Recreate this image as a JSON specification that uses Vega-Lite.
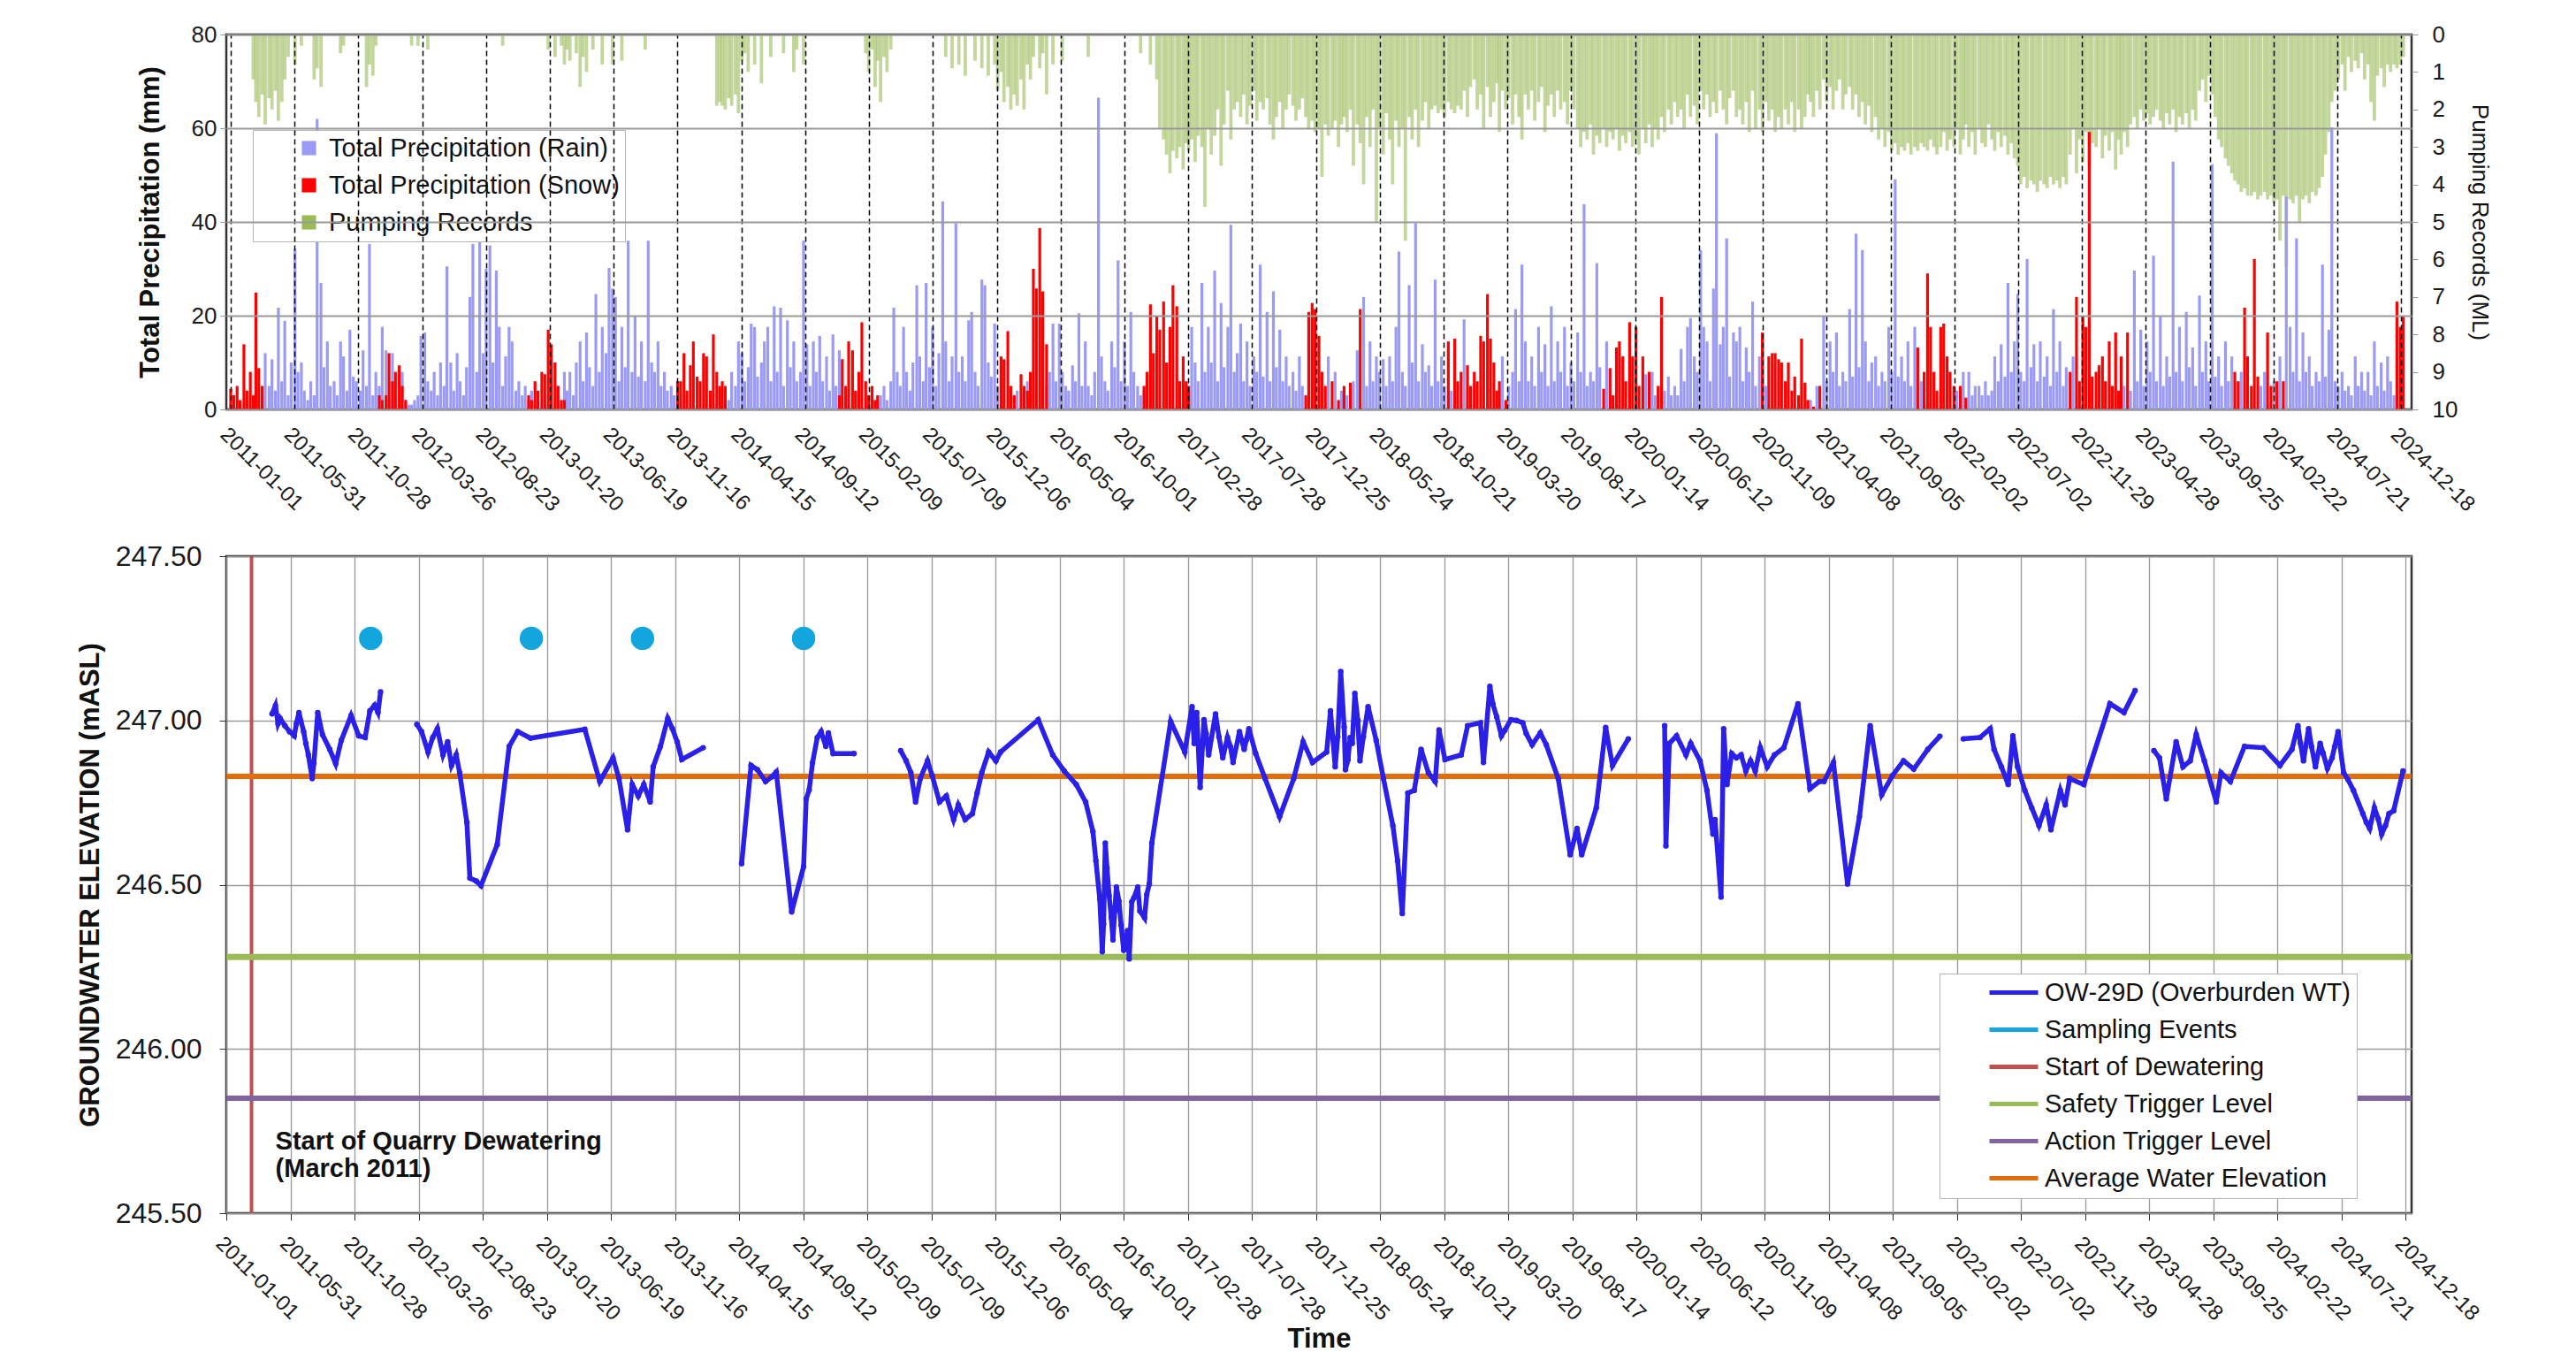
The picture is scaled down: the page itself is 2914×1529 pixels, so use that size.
{
"$schema":"https://vega.github.io/schema/vega-lite/v6.json",
"autosize":{"type":"pad"},
"padding":{"left":84,"top":24,"right":5,"bottom":5},
"background":"white",
"bounds":"flush",
"spacing":166,
"config":{"font":"Liberation Sans","view":{"stroke":"#333","strokeWidth":2.5},"axis":{"labelFont":"Liberation Sans","titleFont":"Liberation Sans","labelColor":"#1a1a1a","titleColor":"#111","domain":false},"legend":{"labelFont":"Liberation Sans","labelColor":"#111","labelLimit":0}},
"resolve":{"scale":{"color":"independent"},"legend":{"color":"independent"}},
"datasets":{
"pr":[
{"d":"2011-01-01","r":1,"s":4.4},{"d":"2011-01-08","r":0.5,"s":3},{"d":"2011-01-16","s":5},{"d":"2011-01-23","r":1,"s":2},
{"d":"2011-02-01","s":13.9},{"d":"2011-02-08","r":2,"s":4},{"d":"2011-02-16","s":8},{"d":"2011-02-23","r":1,"s":3,"p":1.2},
{"d":"2011-03-01","s":24.9,"p":1.8},{"d":"2011-03-08","s":8.8,"p":2.2},{"d":"2011-03-16","r":3,"s":5,"p":1.6},{"d":"2011-03-23","r":12,"p":2.4},
{"d":"2011-04-01","r":5,"p":1.7},{"d":"2011-04-08","r":10.7,"p":2.0},{"d":"2011-04-16","r":4,"p":1.5},{"d":"2011-04-23","r":21.7,"p":2.3},
{"d":"2011-05-01","r":6,"p":1.8},{"d":"2011-05-08","r":18.9,"p":1.2},{"d":"2011-05-16","r":3,"p":0.6},{"d":"2011-05-23","r":10},
{"d":"2011-06-01","r":34.3,"p":0.8},{"d":"2011-06-08","r":8},{"d":"2011-06-16","r":10,"p":0.3},{"d":"2011-06-23","r":4},
{"d":"2011-07-01","r":2},{"d":"2011-07-08","r":6},{"d":"2011-07-16","r":3,"p":1.2},{"d":"2011-07-23","r":62,"p":0.9},
{"d":"2011-08-01","r":27,"p":1.4},{"d":"2011-08-08","r":9},{"d":"2011-08-16","r":14.5},{"d":"2011-08-23","r":5},
{"d":"2011-09-01","r":6},{"d":"2011-09-08","r":3},{"d":"2011-09-16","r":14.5,"p":0.5},{"d":"2011-09-23","r":11.3,"p":0.3},
{"d":"2011-10-01","r":4},{"d":"2011-10-08","r":17},{"d":"2011-10-16","r":7},{"d":"2011-10-23","r":6},
{"d":"2011-11-01","r":4},{"d":"2011-11-08","r":12.6},{"d":"2011-11-16","r":5,"p":1.4},{"d":"2011-11-23","r":35.3,"p":0.8},
{"d":"2011-12-01","r":3,"p":1.1},{"d":"2011-12-08","r":8,"p":0.3},{"d":"2011-12-16","r":5,"s":3},{"d":"2011-12-23","r":17.6,"s":2},
{"d":"2012-01-01","r":12.6,"s":3},{"d":"2012-01-08","r":2,"s":12},{"d":"2012-01-16","r":12,"s":6},{"d":"2012-01-23","s":8},
{"d":"2012-02-01","r":7.5,"s":9.4},{"d":"2012-02-08","r":8,"s":5},{"d":"2012-02-16","r":2,"s":2},{"d":"2012-02-23","r":1},
{"d":"2012-03-01","r":1,"p":0.3},{"d":"2012-03-08","r":2},{"d":"2012-03-16","r":3,"p":0.3},{"d":"2012-03-23","r":15.7},
{"d":"2012-04-01","r":16.4},{"d":"2012-04-08","r":6,"p":0.4},{"d":"2012-04-16","r":4},{"d":"2012-04-23","r":8},
{"d":"2012-05-01","r":3},{"d":"2012-05-08","r":10},{"d":"2012-05-16","r":5},{"d":"2012-05-23","r":30.5},
{"d":"2012-06-01","r":10},{"d":"2012-06-08","r":4},{"d":"2012-06-16","r":12},{"d":"2012-06-23","r":6},
{"d":"2012-07-01","r":3},{"d":"2012-07-08","r":9},{"d":"2012-07-16","r":24},{"d":"2012-07-23","r":35.3},
{"d":"2012-08-01","r":8},{"d":"2012-08-08","r":36},{"d":"2012-08-16","r":12},{"d":"2012-08-23","r":30},
{"d":"2012-09-01","r":35},{"d":"2012-09-08","r":10},{"d":"2012-09-16","r":29.6},{"d":"2012-09-23","r":17.6},
{"d":"2012-10-01","r":5,"p":0.3},{"d":"2012-10-08","r":11.3},{"d":"2012-10-16","r":17.6},{"d":"2012-10-23","r":14.5},
{"d":"2012-11-01","r":4},{"d":"2012-11-08","r":6},{"d":"2012-11-16","r":3},{"d":"2012-11-23","r":5},
{"d":"2012-12-01","r":2,"s":3},{"d":"2012-12-08","r":4,"s":2},{"d":"2012-12-16","r":1,"s":6},{"d":"2012-12-23","r":3,"s":4},
{"d":"2013-01-01","s":8},{"d":"2013-01-08","r":2,"s":7.5},{"d":"2013-01-16","s":17,"p":0.4},{"d":"2013-01-23","r":5,"s":13.9},
{"d":"2013-02-01","s":10,"p":0.6},{"d":"2013-02-08","r":5,"s":5},{"d":"2013-02-16","s":2,"p":0.3},{"d":"2013-02-23","r":8,"s":2,"p":0.8},
{"d":"2013-03-01","r":4,"p":0.4},{"d":"2013-03-08","r":8,"p":0.7},{"d":"2013-03-16","r":3},{"d":"2013-03-23","r":10,"p":0.5},
{"d":"2013-04-01","r":14.5,"p":1.4},{"d":"2013-04-08","r":6,"p":0.6},{"d":"2013-04-16","r":16.4,"p":1.0},{"d":"2013-04-23","r":9},
{"d":"2013-05-01","r":5,"p":0.4},{"d":"2013-05-08","r":24.6},{"d":"2013-05-16","r":8},{"d":"2013-05-23","r":17.6,"p":0.8},
{"d":"2013-06-01","r":12},{"d":"2013-06-08","r":30.2},{"d":"2013-06-16","r":25.8,"p":0.8},{"d":"2013-06-23","r":24},
{"d":"2013-07-01","r":6},{"d":"2013-07-08","r":17.6,"p":0.7},{"d":"2013-07-16","r":9},{"d":"2013-07-23","r":36},
{"d":"2013-08-01","r":8},{"d":"2013-08-08","r":20},{"d":"2013-08-16","r":7},{"d":"2013-08-23","r":14.5},
{"d":"2013-09-01","r":6,"p":0.4},{"d":"2013-09-08","r":36},{"d":"2013-09-16","r":10},{"d":"2013-09-23","r":8},
{"d":"2013-10-01","r":14.5},{"d":"2013-10-08","r":5},{"d":"2013-10-16","r":8},{"d":"2013-10-23","r":4},
{"d":"2013-11-01","r":5},{"d":"2013-11-08","r":3},{"d":"2013-11-16","r":2,"s":6},{"d":"2013-11-23","s":6},
{"d":"2013-12-01","s":12},{"d":"2013-12-08","s":4},{"d":"2013-12-16","s":9.4},{"d":"2013-12-23","s":14.5},
{"d":"2014-01-01","s":7},{"d":"2014-01-08","s":6},{"d":"2014-01-16","s":12},{"d":"2014-01-23","s":11.3},
{"d":"2014-02-01","s":4},{"d":"2014-02-08","s":16},{"d":"2014-02-16","s":8,"p":1.9},{"d":"2014-02-23","s":5,"p":1.8},
{"d":"2014-03-01","s":6,"p":1.9},{"d":"2014-03-08","s":5,"p":2.0},{"d":"2014-03-16","r":2,"p":1.7},{"d":"2014-03-23","r":8,"p":1.9},
{"d":"2014-04-01","r":5,"p":1.6},{"d":"2014-04-08","r":14.5,"p":2.1},{"d":"2014-04-16","r":12,"p":0.7},{"d":"2014-04-23","r":6,"p":0.5},
{"d":"2014-05-01","r":9,"p":1.0},{"d":"2014-05-08","r":18.3},{"d":"2014-05-16","r":17.6,"p":0.8},{"d":"2014-05-23","r":7},
{"d":"2014-06-01","r":10,"p":1.3},{"d":"2014-06-08","r":14.5},{"d":"2014-06-16","r":17.6},{"d":"2014-06-23","r":6,"p":0.6},
{"d":"2014-07-01","r":22},{"d":"2014-07-08","r":8},{"d":"2014-07-16","r":21.7},{"d":"2014-07-23","r":5,"p":0.5},
{"d":"2014-08-01","r":19},{"d":"2014-08-08","r":9},{"d":"2014-08-16","r":14.5,"p":1.0},{"d":"2014-08-23","r":6,"p":0.4},
{"d":"2014-09-01","r":8},{"d":"2014-09-08","r":36,"p":0.8},{"d":"2014-09-16","r":13.9},{"d":"2014-09-23","r":5},
{"d":"2014-10-01","r":14.5},{"d":"2014-10-08","r":8},{"d":"2014-10-16","r":15.7},{"d":"2014-10-23","r":6},
{"d":"2014-11-01","r":11.3},{"d":"2014-11-08","r":4},{"d":"2014-11-16","r":16},{"d":"2014-11-23","r":5},
{"d":"2014-12-01","r":12.6,"s":3},{"d":"2014-12-08","s":10.7},{"d":"2014-12-16","r":3,"s":5},{"d":"2014-12-23","s":14.5},
{"d":"2015-01-01","s":12.6},{"d":"2015-01-08","s":4},{"d":"2015-01-16","s":8},{"d":"2015-01-23","s":18.6},
{"d":"2015-02-01","s":6,"p":0.5},{"d":"2015-02-08","s":3,"p":1.0},{"d":"2015-02-16","s":5,"p":0.4},{"d":"2015-02-23","s":2,"p":1.4},
{"d":"2015-03-01","r":2,"s":3,"p":0.7},{"d":"2015-03-08","r":3,"p":1.8},{"d":"2015-03-16","r":5,"p":0.6},{"d":"2015-03-23","r":2,"p":1.0},
{"d":"2015-04-01","r":6,"p":0.4},{"d":"2015-04-08","r":21.7},{"d":"2015-04-16","r":8},{"d":"2015-04-23","r":5},
{"d":"2015-05-01","r":17.6},{"d":"2015-05-08","r":8},{"d":"2015-05-16","r":4},{"d":"2015-05-23","r":10},
{"d":"2015-06-01","r":26.5},{"d":"2015-06-08","r":11.3},{"d":"2015-06-16","r":6},{"d":"2015-06-23","r":27},
{"d":"2015-07-01","r":9},{"d":"2015-07-08","r":17.6},{"d":"2015-07-16","r":5},{"d":"2015-07-23","r":12},
{"d":"2015-08-01","r":44.4},{"d":"2015-08-08","r":14.5,"p":0.6},{"d":"2015-08-16","r":6},{"d":"2015-08-23","r":11.3,"p":0.9},
{"d":"2015-09-01","r":39.7},{"d":"2015-09-08","r":8,"p":0.8},{"d":"2015-09-16","r":11.3},{"d":"2015-09-23","r":6,"p":1.1},
{"d":"2015-10-01","r":19},{"d":"2015-10-08","r":20.8},{"d":"2015-10-16","r":8,"p":0.7},{"d":"2015-10-23","r":5},
{"d":"2015-11-01","r":27.7,"p":0.9},{"d":"2015-11-08","r":26.5},{"d":"2015-11-16","r":10,"p":1.1},{"d":"2015-11-23","r":7},
{"d":"2015-12-01","r":18.3,"p":0.8},{"d":"2015-12-08","r":5,"p":1.5},{"d":"2015-12-16","s":11.3,"p":1.0},{"d":"2015-12-23","s":10.7,"p":1.8},
{"d":"2016-01-01","s":16.7,"p":1.4},{"d":"2016-01-08","s":5,"p":2.0},{"d":"2016-01-16","s":3,"p":1.6},{"d":"2016-01-23","r":4,"p":1.9},
{"d":"2016-02-01","s":7.5,"p":1.2},{"d":"2016-02-08","s":5,"p":2.0},{"d":"2016-02-16","r":6,"s":4,"p":0.8},{"d":"2016-02-23","s":8,"p":1.2},
{"d":"2016-03-01","s":30,"p":0.6},{"d":"2016-03-08","s":25.8},{"d":"2016-03-16","s":38.7,"p":0.9},{"d":"2016-03-23","s":25.2,"p":0.5},
{"d":"2016-04-01","r":5,"s":13.9,"p":1.6},{"d":"2016-04-08","r":8},{"d":"2016-04-16","r":18.3,"p":0.8},{"d":"2016-04-23","r":6},
{"d":"2016-05-01","r":18.3},{"d":"2016-05-08","r":8,"p":0.7},{"d":"2016-05-16","r":5},{"d":"2016-05-23","r":4},
{"d":"2016-06-01","r":9.4},{"d":"2016-06-08","r":6},{"d":"2016-06-16","r":20.5},{"d":"2016-06-23","r":5},
{"d":"2016-07-01","r":14.5},{"d":"2016-07-08","r":5,"p":0.6},{"d":"2016-07-16","r":3},{"d":"2016-07-23","r":8},
{"d":"2016-08-01","r":66.5},{"d":"2016-08-08","r":11.3},{"d":"2016-08-16","r":6},{"d":"2016-08-23","r":4},
{"d":"2016-09-01","r":14.5},{"d":"2016-09-08","r":9},{"d":"2016-09-16","r":31.8},{"d":"2016-09-23","r":6},
{"d":"2016-10-01","r":14.5},{"d":"2016-10-08","r":5},{"d":"2016-10-16","r":20.8},{"d":"2016-10-23","r":8},
{"d":"2016-11-01","r":5},{"d":"2016-11-08","r":3,"p":0.5},{"d":"2016-11-16","r":4,"s":5},{"d":"2016-11-23","s":8},
{"d":"2016-12-01","s":22.4,"p":0.8},{"d":"2016-12-08","s":12},{"d":"2016-12-16","s":20,"p":1.2},{"d":"2016-12-23","s":17,"p":2.5},
{"d":"2017-01-01","s":23,"p":2.8},{"d":"2017-01-08","s":10,"p":3.2},{"d":"2017-01-16","s":17.6,"p":3.7},{"d":"2017-01-23","s":26.5,"p":3.1},
{"d":"2017-02-01","s":22,"p":3.3},{"d":"2017-02-08","s":6,"p":3.0},{"d":"2017-02-16","s":11.3,"p":3.6},{"d":"2017-02-23","s":6,"p":2.9},
{"d":"2017-03-01","r":4,"s":5,"p":3.1},{"d":"2017-03-08","r":17.6,"p":2.8},{"d":"2017-03-16","r":10,"p":3.4},{"d":"2017-03-23","r":6,"p":2.7},
{"d":"2017-04-01","r":27,"p":3.0},{"d":"2017-04-08","r":8,"p":4.6},{"d":"2017-04-16","r":17.6,"p":2.5},{"d":"2017-04-23","r":10,"p":3.2},
{"d":"2017-05-01","r":29.6,"p":2.7},{"d":"2017-05-08","r":6,"p":2.0},{"d":"2017-05-16","r":22.7,"p":3.5},{"d":"2017-05-23","r":9,"p":2.4},
{"d":"2017-06-01","r":17.6,"p":1.5},{"d":"2017-06-08","r":39.4,"p":2.8},{"d":"2017-06-16","r":8,"p":2.0},{"d":"2017-06-23","r":12,"p":1.8},
{"d":"2017-07-01","r":18.3,"p":2.2},{"d":"2017-07-08","r":6,"p":1.6},{"d":"2017-07-16","r":14.5,"p":2.4},{"d":"2017-07-23","r":5,"p":1.9},
{"d":"2017-08-01","r":11.3,"p":1.5},{"d":"2017-08-08","r":8,"p":2.3},{"d":"2017-08-16","r":30.9,"p":1.8},{"d":"2017-08-23","r":7,"p":2.0},
{"d":"2017-09-01","r":20.8,"p":1.7},{"d":"2017-09-08","r":6,"p":2.4},{"d":"2017-09-16","r":25.2,"p":2.8},{"d":"2017-09-23","r":9,"p":2.2},
{"d":"2017-10-01","r":17,"p":1.8},{"d":"2017-10-08","r":6,"p":2.5},{"d":"2017-10-16","r":11.3,"p":2.0},{"d":"2017-10-23","r":5,"p":1.6},
{"d":"2017-11-01","r":8,"p":1.9},{"d":"2017-11-08","r":4,"p":2.3},{"d":"2017-11-16","r":11.3,"p":2.0},{"d":"2017-11-23","r":5,"p":1.7},
{"d":"2017-12-01","s":3,"p":2.2},{"d":"2017-12-08","s":20.8,"p":2.5},{"d":"2017-12-16","s":22.7,"p":2.3},{"d":"2017-12-23","s":21.4,"p":2.6},
{"d":"2018-01-01","s":15.7,"p":2.5},{"d":"2018-01-08","s":8,"p":3.8},{"d":"2018-01-16","s":5,"p":2.4},{"d":"2018-01-23","r":11.3,"p":2.7},
{"d":"2018-02-01","s":6,"p":2.5},{"d":"2018-02-08","r":8,"p":2.3},{"d":"2018-02-16","s":2,"p":3.0},{"d":"2018-02-23","r":4,"p":2.4},
{"d":"2018-03-01","s":5,"p":2.2},{"d":"2018-03-08","r":3,"p":2.6},{"d":"2018-03-16","s":5.7,"p":2.0},{"d":"2018-03-23","r":6,"p":3.5},
{"d":"2018-04-01","r":12.6,"p":2.4},{"d":"2018-04-08","s":21.4,"p":2.9},{"d":"2018-04-16","r":24,"p":4.0},{"d":"2018-04-23","r":5,"p":2.2},
{"d":"2018-05-01","r":14.5,"p":3.0},{"d":"2018-05-08","r":6,"p":2.0},{"d":"2018-05-16","r":11.3,"p":5.0},{"d":"2018-05-23","r":8,"p":2.5},
{"d":"2018-06-01","r":10.7,"p":3.2},{"d":"2018-06-08","r":5,"p":2.1},{"d":"2018-06-16","r":11.3,"p":2.8},{"d":"2018-06-23","r":6,"p":4.0},
{"d":"2018-07-01","r":17.6,"p":2.3},{"d":"2018-07-08","r":33.7,"p":3.0},{"d":"2018-07-16","r":8,"p":2.5},{"d":"2018-07-23","r":5,"p":5.5},
{"d":"2018-08-01","r":26.5,"p":2.2},{"d":"2018-08-08","r":10,"p":2.8},{"d":"2018-08-16","r":39.7,"p":2.0},{"d":"2018-08-23","r":6,"p":3.0},
{"d":"2018-09-01","r":13.9,"p":2.3},{"d":"2018-09-08","r":8,"p":1.8},{"d":"2018-09-16","r":9.4,"p":2.5},{"d":"2018-09-23","r":5,"p":2.0},
{"d":"2018-10-01","r":27.7,"p":1.9},{"d":"2018-10-08","r":6,"p":2.1},{"d":"2018-10-16","r":11.3,"p":2.0},{"d":"2018-10-23","r":5,"p":2.2},
{"d":"2018-11-01","s":14.5,"p":1.8},{"d":"2018-11-08","r":4,"p":2.0},{"d":"2018-11-16","s":15.1,"p":2.1},{"d":"2018-11-23","s":6,"p":1.9},
{"d":"2018-12-01","s":8,"p":2.0},{"d":"2018-12-08","r":19.2,"p":1.5},{"d":"2018-12-16","s":9.4,"p":2.2},{"d":"2018-12-23","s":5,"p":1.4},
{"d":"2019-01-01","s":8,"p":1.2},{"d":"2019-01-08","s":6,"p":2.0},{"d":"2019-01-16","s":15.7,"p":1.6},{"d":"2019-01-23","s":14.5,"p":2.5},
{"d":"2019-02-01","s":24.6,"p":1.4},{"d":"2019-02-08","s":15.1,"p":2.2},{"d":"2019-02-16","s":10,"p":1.8},{"d":"2019-02-23","s":4,"p":1.3},
{"d":"2019-03-01","s":6,"p":2.6},{"d":"2019-03-08","r":11.3,"p":1.5},{"d":"2019-03-16","s":2,"p":2.0},{"d":"2019-03-23","r":5,"p":1.7},
{"d":"2019-04-01","r":8,"p":2.4},{"d":"2019-04-08","r":21.4,"p":1.6},{"d":"2019-04-16","r":6,"p":2.2},{"d":"2019-04-23","r":30.9,"p":2.8},
{"d":"2019-05-01","r":14.5,"p":1.6},{"d":"2019-05-08","r":6,"p":2.0},{"d":"2019-05-16","r":11.3,"p":1.5},{"d":"2019-05-23","r":5,"p":2.3},
{"d":"2019-06-01","r":17.6,"p":1.8},{"d":"2019-06-08","r":8,"p":1.4},{"d":"2019-06-16","r":13.9,"p":2.6},{"d":"2019-06-23","r":5,"p":1.9},
{"d":"2019-07-01","r":22,"p":1.6},{"d":"2019-07-08","r":6,"p":2.2},{"d":"2019-07-16","r":14.5,"p":1.5},{"d":"2019-07-23","r":8,"p":2.0},
{"d":"2019-08-01","r":17.6,"p":1.8},{"d":"2019-08-08","r":5,"p":2.4},{"d":"2019-08-16","r":10,"p":1.5},{"d":"2019-08-23","r":6,"p":2.0},
{"d":"2019-09-01","r":16.4,"p":2.5},{"d":"2019-09-08","r":8,"p":3.0},{"d":"2019-09-16","r":43.8,"p":2.6},{"d":"2019-09-23","r":5,"p":2.8},
{"d":"2019-10-01","r":8,"p":2.4},{"d":"2019-10-08","r":6,"p":3.2},{"d":"2019-10-16","r":31.2,"p":2.7},{"d":"2019-10-23","r":9,"p":2.9},
{"d":"2019-11-01","s":4.4,"p":2.5},{"d":"2019-11-08","r":14.5,"p":3.0},{"d":"2019-11-16","s":8.8,"p":2.6},{"d":"2019-11-23","s":3,"p":2.8},
{"d":"2019-12-01","s":13.2,"p":2.5},{"d":"2019-12-08","s":14.5,"p":3.1},{"d":"2019-12-16","s":11.3,"p":2.7},{"d":"2019-12-23","s":6,"p":2.9},
{"d":"2020-01-01","s":18.6,"p":2.6},{"d":"2020-01-08","s":11.3,"p":3.0},{"d":"2020-01-16","s":17.6,"p":2.8},{"d":"2020-01-23","s":5,"p":3.2},
{"d":"2020-02-01","s":11.3,"p":2.5},{"d":"2020-02-08","r":7.5,"p":2.9},{"d":"2020-02-16","s":8,"p":2.4},{"d":"2020-02-23","r":8,"p":3.0},
{"d":"2020-03-01","r":3,"p":2.5},{"d":"2020-03-08","s":5,"p":2.8},{"d":"2020-03-16","s":24,"p":2.2},{"d":"2020-03-23","r":4,"p":2.6},
{"d":"2020-04-01","r":7,"p":2.0},{"d":"2020-04-08","r":3,"p":2.4},{"d":"2020-04-16","r":5,"p":1.8},{"d":"2020-04-23","r":3,"p":2.2},
{"d":"2020-05-01","r":12.9,"p":2.0},{"d":"2020-05-08","r":6,"p":2.5},{"d":"2020-05-16","r":17.6,"p":1.6},{"d":"2020-05-23","r":19.5,"p":2.2},
{"d":"2020-06-01","r":11.3,"p":1.9},{"d":"2020-06-08","r":8,"p":2.4},{"d":"2020-06-16","r":34,"p":1.5},{"d":"2020-06-23","r":17.6,"p":2.0},
{"d":"2020-07-01","r":14.5,"p":1.6},{"d":"2020-07-08","r":6,"p":2.2},{"d":"2020-07-16","r":25.8,"p":1.8},{"d":"2020-07-23","r":58.9,"p":2.1},
{"d":"2020-08-01","r":13.9,"p":1.5},{"d":"2020-08-08","r":17.6,"p":2.0},{"d":"2020-08-16","r":36.5,"p":2.4},{"d":"2020-08-23","r":7,"p":1.7},
{"d":"2020-09-01","r":16.4,"p":1.5},{"d":"2020-09-08","r":14.5,"p":2.2},{"d":"2020-09-16","r":17.6,"p":2.0},{"d":"2020-09-23","r":6,"p":2.4},
{"d":"2020-10-01","r":13.2,"p":1.8},{"d":"2020-10-08","r":8,"p":2.6},{"d":"2020-10-16","r":23,"p":1.5},{"d":"2020-10-23","r":5,"p":2.5},
{"d":"2020-11-01","r":11.3,"p":2.0},{"d":"2020-11-08","s":16.4,"p":2.6},{"d":"2020-11-16","r":5,"p":1.8},{"d":"2020-11-23","s":11.3,"p":2.3},
{"d":"2020-12-01","s":12,"p":2.0},{"d":"2020-12-08","s":12,"p":2.6},{"d":"2020-12-16","s":10.7,"p":2.2},{"d":"2020-12-23","s":10,"p":2.5},
{"d":"2021-01-01","s":6,"p":2.0},{"d":"2021-01-08","s":10,"p":2.4},{"d":"2021-01-16","s":4,"p":1.8},{"d":"2021-01-23","s":7,"p":2.6},
{"d":"2021-02-01","s":3,"p":2.0},{"d":"2021-02-08","s":15.1,"p":2.5},{"d":"2021-02-16","s":5.7,"p":2.2},{"d":"2021-02-23","s":2,"p":1.6},
{"d":"2021-03-01","r":2,"p":1.8},{"d":"2021-03-08","s":0.6,"p":2.2},{"d":"2021-03-16","r":5,"p":1.5},{"d":"2021-03-23","s":5,"p":2.0},
{"d":"2021-04-01","r":20,"p":1.2},{"d":"2021-04-08","r":6,"p":1.8},{"d":"2021-04-16","r":14.5,"p":1.4},{"d":"2021-04-23","r":8,"p":2.0},
{"d":"2021-05-01","r":16.4,"p":1.5},{"d":"2021-05-08","r":5,"p":1.2},{"d":"2021-05-16","r":8,"p":2.0},{"d":"2021-05-23","r":6,"p":1.6},
{"d":"2021-06-01","r":21.4,"p":1.4},{"d":"2021-06-08","r":7,"p":2.0},{"d":"2021-06-16","r":37.5,"p":1.6},{"d":"2021-06-23","r":9,"p":2.2},
{"d":"2021-07-01","r":34,"p":1.8},{"d":"2021-07-08","r":14.5,"p":2.4},{"d":"2021-07-16","r":6,"p":1.9},{"d":"2021-07-23","r":10,"p":2.6},
{"d":"2021-08-01","r":11.3,"p":2.2},{"d":"2021-08-08","r":5,"p":2.8},{"d":"2021-08-16","r":8,"p":2.5},{"d":"2021-08-23","r":6,"p":3.0},
{"d":"2021-09-01","r":17.6,"p":2.6},{"d":"2021-09-08","r":8,"p":3.1},{"d":"2021-09-16","r":49.1,"p":2.9},{"d":"2021-09-23","r":7,"p":3.2},
{"d":"2021-10-01","r":11.3,"p":3.0},{"d":"2021-10-08","r":6,"p":3.1},{"d":"2021-10-16","r":14.5,"p":2.9},{"d":"2021-10-23","r":5,"p":3.2},
{"d":"2021-11-01","r":17.6,"p":3.0},{"d":"2021-11-08","s":13.2,"p":3.1},{"d":"2021-11-16","r":6,"p":2.9},{"d":"2021-11-23","s":8,"p":3.0},
{"d":"2021-12-01","s":29,"p":3.1},{"d":"2021-12-08","s":17.6,"p":2.8},{"d":"2021-12-16","s":8,"p":3.0},{"d":"2021-12-23","s":4,"p":3.2},
{"d":"2022-01-01","s":17.6,"p":3.0},{"d":"2022-01-08","s":18.3,"p":2.6},{"d":"2022-01-16","s":11.3,"p":3.1},{"d":"2022-01-23","s":8,"p":2.8},
{"d":"2022-02-01","s":5,"p":3.0},{"d":"2022-02-08","r":4,"p":2.5},{"d":"2022-02-16","s":5,"p":3.2},{"d":"2022-02-23","r":8,"p":2.8},
{"d":"2022-03-01","s":2.5,"p":2.4},{"d":"2022-03-08","r":8,"p":3.0},{"d":"2022-03-16","r":3,"p":2.6},{"d":"2022-03-23","r":5,"p":3.2},
{"d":"2022-04-01","r":5,"p":2.5},{"d":"2022-04-08","r":3,"p":2.9},{"d":"2022-04-16","r":6,"p":3.0},{"d":"2022-04-23","r":3,"p":2.4},
{"d":"2022-05-01","r":4,"p":2.8},{"d":"2022-05-08","r":11.3,"p":3.1},{"d":"2022-05-16","r":6,"p":2.6},{"d":"2022-05-23","r":13.9,"p":3.0},
{"d":"2022-06-01","r":7,"p":2.7},{"d":"2022-06-08","r":27,"p":3.2},{"d":"2022-06-16","r":8,"p":2.9},{"d":"2022-06-23","r":14.5,"p":3.3},
{"d":"2022-07-01","r":24.6,"p":3.5},{"d":"2022-07-08","r":8,"p":4.0},{"d":"2022-07-16","r":6,"p":3.8},{"d":"2022-07-23","r":32.1,"p":4.1},
{"d":"2022-08-01","r":9,"p":3.9},{"d":"2022-08-08","r":13.9,"p":4.0},{"d":"2022-08-16","r":6,"p":4.2},{"d":"2022-08-23","r":14.5,"p":3.9},
{"d":"2022-09-01","r":7,"p":4.0},{"d":"2022-09-08","r":11.3,"p":4.1},{"d":"2022-09-16","r":5,"p":3.8},{"d":"2022-09-23","r":21.4,"p":4.0},
{"d":"2022-10-01","r":8,"p":3.9},{"d":"2022-10-08","r":14.5,"p":4.1},{"d":"2022-10-16","r":5,"p":3.8},{"d":"2022-10-23","r":9,"p":4.0},
{"d":"2022-11-01","s":8,"p":3.2},{"d":"2022-11-08","r":11.3,"p":2.5},{"d":"2022-11-16","s":24,"p":3.7},{"d":"2022-11-23","s":6,"p":2.8},
{"d":"2022-12-01","s":20,"p":3.4},{"d":"2022-12-08","s":17.6,"p":2.6},{"d":"2022-12-16","s":59.2,"p":3.5},{"d":"2022-12-23","s":7,"p":2.9},
{"d":"2023-01-01","s":8,"p":3.0},{"d":"2023-01-08","s":9.4,"p":2.5},{"d":"2023-01-16","s":11.3,"p":3.3},{"d":"2023-01-23","s":6,"p":2.7},
{"d":"2023-02-01","s":14.5,"p":3.1},{"d":"2023-02-08","s":5,"p":2.6},{"d":"2023-02-16","s":16.4,"p":3.6},{"d":"2023-02-23","s":4,"p":2.8},
{"d":"2023-03-01","s":11.3,"p":3.2},{"d":"2023-03-08","r":5,"p":2.6},{"d":"2023-03-16","s":16.4,"p":3.0},{"d":"2023-03-23","r":4,"p":2.4},
{"d":"2023-04-01","r":29.6,"p":2.2},{"d":"2023-04-08","r":6,"p":2.5},{"d":"2023-04-16","r":17,"p":2.0},{"d":"2023-04-23","r":5,"p":2.3},
{"d":"2023-05-01","r":14.5,"p":2.1},{"d":"2023-05-08","r":8,"p":2.4},{"d":"2023-05-16","r":32.8,"p":2.2},{"d":"2023-05-23","r":6,"p":2.0},
{"d":"2023-06-01","r":20,"p":2.3},{"d":"2023-06-08","r":5,"p":2.5},{"d":"2023-06-16","r":11.3,"p":2.1},{"d":"2023-06-23","r":7,"p":2.4},
{"d":"2023-07-01","r":52.9,"p":2.0},{"d":"2023-07-08","r":8,"p":2.6},{"d":"2023-07-16","r":17.6,"p":2.2},{"d":"2023-07-23","r":6,"p":2.4},
{"d":"2023-08-01","r":20.8,"p":2.1},{"d":"2023-08-08","r":9,"p":2.5},{"d":"2023-08-16","r":13.2,"p":2.0},{"d":"2023-08-23","r":5,"p":2.3},
{"d":"2023-09-01","r":24.3,"p":1.5},{"d":"2023-09-08","r":8,"p":1.2},{"d":"2023-09-16","r":14.5,"p":1.8},{"d":"2023-09-23","r":6,"p":1.1},
{"d":"2023-10-01","r":52.3,"p":1.6},{"d":"2023-10-08","r":7,"p":2.2},{"d":"2023-10-16","r":11.3,"p":2.8},{"d":"2023-10-23","r":5,"p":3.0},
{"d":"2023-11-01","r":14.5,"p":3.3},{"d":"2023-11-08","r":6,"p":3.5},{"d":"2023-11-16","r":11.3,"p":3.7},{"d":"2023-11-23","s":8,"p":3.9},
{"d":"2023-12-01","s":6,"p":4.0},{"d":"2023-12-08","r":8,"p":4.2},{"d":"2023-12-16","s":21.7,"p":4.1},{"d":"2023-12-23","s":11.3,"p":4.3},
{"d":"2024-01-01","s":5,"p":4.3},{"d":"2024-01-08","s":32.1,"p":4.2},{"d":"2024-01-16","s":7,"p":4.4},{"d":"2024-01-23","r":5,"p":4.3},
{"d":"2024-02-01","r":8,"p":4.2},{"d":"2024-02-08","s":16.4,"p":4.4},{"d":"2024-02-16","s":5,"p":4.3},{"d":"2024-02-23","r":6,"p":4.5},
{"d":"2024-03-01","s":6,"p":4.4},{"d":"2024-03-08","r":11.3,"p":5.5},{"d":"2024-03-16","s":6,"p":4.3},{"d":"2024-03-23","r":45.4,"p":6.2},
{"d":"2024-04-01","r":17.6,"p":4.4},{"d":"2024-04-08","r":8,"p":4.5},{"d":"2024-04-16","r":36.5,"p":4.3},{"d":"2024-04-23","r":6,"p":5.0},
{"d":"2024-05-01","r":16.4,"p":4.4},{"d":"2024-05-08","r":8,"p":4.3},{"d":"2024-05-16","r":11.3,"p":4.5},{"d":"2024-05-23","r":5,"p":4.2},
{"d":"2024-06-01","r":8,"p":4.3},{"d":"2024-06-08","r":6,"p":4.1},{"d":"2024-06-16","r":30.9,"p":3.8},{"d":"2024-06-23","r":7,"p":3.2},
{"d":"2024-07-01","r":17,"p":2.6},{"d":"2024-07-08","r":60.2,"p":1.8},{"d":"2024-07-16","r":6,"p":1.5},{"d":"2024-07-23","r":5,"p":1.2},
{"d":"2024-08-01","r":8,"p":0.8},{"d":"2024-08-08","r":4,"p":1.5},{"d":"2024-08-16","r":5,"p":0.6},{"d":"2024-08-23","r":3,"p":1.0},
{"d":"2024-09-01","r":11.3,"p":0.7},{"d":"2024-09-08","r":5,"p":0.9},{"d":"2024-09-16","r":8,"p":0.5},{"d":"2024-09-23","r":4,"p":1.2},
{"d":"2024-10-01","r":8,"p":0.8},{"d":"2024-10-08","r":3,"p":1.8},{"d":"2024-10-16","r":14.5,"p":2.3},{"d":"2024-10-23","r":5,"p":1.1},
{"d":"2024-11-01","r":10,"p":0.9},{"d":"2024-11-08","r":4,"p":1.4},{"d":"2024-11-16","r":11.3,"p":0.8},{"d":"2024-11-23","r":6,"p":1.0},
{"d":"2024-12-01","r":3,"p":0.8},{"d":"2024-12-08","s":23,"p":0.9},{"d":"2024-12-16","s":17.6,"p":0.8},{"d":"2024-12-23","s":20,"p":0.6}
],
"gw":[
{"d":"2011-04-18","v":247.02,"g":1},{"d":"2011-04-26","v":247.045,"g":1},{"d":"2011-05-02","v":246.99,"g":1},{"d":"2011-05-07","v":247.006,"g":1},{"d":"2011-05-18","v":246.984,"g":1},{"d":"2011-05-29","v":246.966,"g":1},{"d":"2011-06-09","v":246.953,"g":1},{"d":"2011-06-14","v":246.99,"g":1},{"d":"2011-06-20","v":247.024,"g":1},{"d":"2011-07-01","v":246.966,"g":1},{"d":"2011-07-06","v":246.93,"g":1},{"d":"2011-07-12","v":246.895,"g":1},{"d":"2011-07-21","v":246.823,"g":1},{"d":"2011-07-25","v":246.87,"g":1},{"d":"2011-08-03","v":247.024,"g":1},{"d":"2011-08-14","v":246.957,"g":1},{"d":"2011-08-31","v":246.912,"g":1},{"d":"2011-09-14","v":246.868,"g":1},{"d":"2011-09-27","v":246.939,"g":1},{"d":"2011-10-20","v":247.015,"g":1},{"d":"2011-11-07","v":246.953,"g":1},{"d":"2011-11-22","v":246.948,"g":1},{"d":"2011-12-03","v":247.029,"g":1},{"d":"2011-12-14","v":247.046,"g":1},{"d":"2011-12-22","v":247.024,"g":1},{"d":"2011-12-28","v":247.087,"g":1},
{"d":"2012-03-22","v":246.988,"g":2},{"d":"2012-04-02","v":246.966,"g":2},{"d":"2012-04-17","v":246.904,"g":2},{"d":"2012-04-28","v":246.948,"g":2},{"d":"2012-05-09","v":246.975,"g":2},{"d":"2012-05-22","v":246.895,"g":2},{"d":"2012-06-02","v":246.935,"g":2},{"d":"2012-06-11","v":246.863,"g":2},{"d":"2012-06-22","v":246.895,"g":2},{"d":"2012-06-30","v":246.841,"g":2},{"d":"2012-07-17","v":246.689,"g":2},{"d":"2012-07-24","v":246.52,"g":2},{"d":"2012-08-08","v":246.511,"g":2},{"d":"2012-08-19","v":246.497,"g":2},{"d":"2012-09-26","v":246.622,"g":2},{"d":"2012-10-24","v":246.921,"g":2},{"d":"2012-11-13","v":246.966,"g":2},{"d":"2012-12-13","v":246.946,"g":2},{"d":"2013-04-19","v":246.973,"g":2},{"d":"2013-05-24","v":246.814,"g":2},{"d":"2013-06-24","v":246.886,"g":2},{"d":"2013-07-08","v":246.823,"g":2},{"d":"2013-07-28","v":246.667,"g":2},{"d":"2013-08-08","v":246.805,"g":2},{"d":"2013-08-22","v":246.77,"g":2},{"d":"2013-09-04","v":246.805,"g":2},{"d":"2013-09-19","v":246.752,"g":2},{"d":"2013-09-26","v":246.859,"g":2},{"d":"2013-10-13","v":246.921,"g":2},{"d":"2013-10-30","v":247.006,"g":2},{"d":"2013-11-10","v":246.975,"g":2},{"d":"2013-11-21","v":246.935,"g":2},{"d":"2013-12-02","v":246.881,"g":2},{"d":"2014-01-21","v":246.917,"g":2},
{"d":"2014-04-21","v":246.564,"g":3},{"d":"2014-05-13","v":246.863,"g":3},{"d":"2014-05-28","v":246.85,"g":3},{"d":"2014-06-16","v":246.814,"g":3},{"d":"2014-06-30","v":246.828,"g":3},{"d":"2014-07-11","v":246.843,"g":3},{"d":"2014-08-16","v":246.417,"g":3},{"d":"2014-09-13","v":246.555,"g":3},{"d":"2014-09-19","v":246.761,"g":3},{"d":"2014-09-26","v":246.788,"g":3},{"d":"2014-10-04","v":246.872,"g":3},{"d":"2014-10-15","v":246.948,"g":3},{"d":"2014-10-24","v":246.966,"g":3},{"d":"2014-11-04","v":246.921,"g":3},{"d":"2014-11-10","v":246.962,"g":3},{"d":"2014-11-21","v":246.899,"g":3},{"d":"2015-01-09","v":246.899,"g":3},
{"d":"2015-04-28","v":246.908,"g":4},{"d":"2015-05-11","v":246.877,"g":4},{"d":"2015-05-22","v":246.841,"g":4},{"d":"2015-06-02","v":246.752,"g":4},{"d":"2015-06-13","v":246.823,"g":4},{"d":"2015-06-30","v":246.877,"g":4},{"d":"2015-07-11","v":246.832,"g":4},{"d":"2015-07-28","v":246.752,"g":4},{"d":"2015-08-13","v":246.77,"g":4},{"d":"2015-08-30","v":246.698,"g":4},{"d":"2015-09-10","v":246.743,"g":4},{"d":"2015-09-26","v":246.698,"g":4},{"d":"2015-10-13","v":246.716,"g":4},{"d":"2015-10-24","v":246.779,"g":4},{"d":"2015-11-04","v":246.841,"g":4},{"d":"2015-11-20","v":246.904,"g":4},{"d":"2015-12-07","v":246.877,"g":4},{"d":"2015-12-18","v":246.904,"g":4},{"d":"2016-03-15","v":247.002,"g":4},{"d":"2016-04-18","v":246.895,"g":4},{"d":"2016-05-15","v":246.846,"g":4},{"d":"2016-06-12","v":246.805,"g":4},{"d":"2016-07-04","v":246.752,"g":4},{"d":"2016-07-21","v":246.662,"g":4},{"d":"2016-07-28","v":246.573,"g":4},{"d":"2016-08-06","v":246.457,"g":4},{"d":"2016-08-12","v":246.296,"g":4},{"d":"2016-08-15","v":246.38,"g":4},{"d":"2016-08-19","v":246.627,"g":4},{"d":"2016-08-23","v":246.55,"g":4},{"d":"2016-08-28","v":246.466,"g":4},{"d":"2016-09-02","v":246.40,"g":4},{"d":"2016-09-06","v":246.332,"g":4},{"d":"2016-09-10","v":246.42,"g":4},{"d":"2016-09-14","v":246.493,"g":4},{"d":"2016-09-20","v":246.45,"g":4},{"d":"2016-09-25","v":246.377,"g":4},{"d":"2016-10-01","v":246.30,"g":4},{"d":"2016-10-06","v":246.332,"g":4},{"d":"2016-10-10","v":246.36,"g":4},{"d":"2016-10-14","v":246.274,"g":4},{"d":"2016-10-20","v":246.448,"g":4},{"d":"2016-10-25","v":246.46,"g":4},{"d":"2016-11-03","v":246.493,"g":4},{"d":"2016-11-08","v":246.42,"g":4},{"d":"2016-11-19","v":246.399,"g":4},{"d":"2016-11-24","v":246.47,"g":4},{"d":"2016-11-30","v":246.502,"g":4},{"d":"2016-12-06","v":246.627,"g":4},{"d":"2017-01-19","v":246.997,"g":4},{"d":"2017-02-21","v":246.904,"g":4},{"d":"2017-03-10","v":247.042,"g":4},{"d":"2017-03-15","v":246.93,"g":4},{"d":"2017-03-21","v":247.024,"g":4},{"d":"2017-03-29","v":246.796,"g":4},{"d":"2017-04-07","v":247.002,"g":4},{"d":"2017-04-12","v":246.96,"g":4},{"d":"2017-04-18","v":246.895,"g":4},{"d":"2017-05-04","v":247.02,"g":4},{"d":"2017-05-12","v":246.95,"g":4},{"d":"2017-05-21","v":246.886,"g":4},{"d":"2017-06-01","v":246.948,"g":4},{"d":"2017-06-08","v":246.92,"g":4},{"d":"2017-06-14","v":246.872,"g":4},{"d":"2017-06-29","v":246.966,"g":4},{"d":"2017-07-10","v":246.912,"g":4},{"d":"2017-07-15","v":246.94,"g":4},{"d":"2017-07-21","v":246.975,"g":4},{"d":"2017-08-06","v":246.899,"g":4},{"d":"2017-08-28","v":246.823,"g":4},{"d":"2017-10-01","v":246.707,"g":4},{"d":"2017-11-03","v":246.823,"g":4},{"d":"2017-11-25","v":246.935,"g":4},{"d":"2017-12-17","v":246.872,"g":4},{"d":"2018-01-19","v":246.904,"g":4},{"d":"2018-01-28","v":247.029,"g":4},{"d":"2018-02-08","v":246.859,"g":4},{"d":"2018-02-14","v":246.95,"g":4},{"d":"2018-02-21","v":247.149,"g":4},{"d":"2018-03-01","v":246.98,"g":4},{"d":"2018-03-04","v":246.85,"g":4},{"d":"2018-03-10","v":246.88,"g":4},{"d":"2018-03-15","v":246.948,"g":4},{"d":"2018-03-20","v":246.93,"g":4},{"d":"2018-03-26","v":247.082,"g":4},{"d":"2018-04-02","v":247.0,"g":4},{"d":"2018-04-07","v":246.877,"g":4},{"d":"2018-04-15","v":246.95,"g":4},{"d":"2018-04-26","v":247.042,"g":4},{"d":"2018-05-15","v":246.939,"g":4},{"d":"2018-06-01","v":246.823,"g":4},{"d":"2018-06-23","v":246.68,"g":4},{"d":"2018-07-04","v":246.573,"g":4},{"d":"2018-07-15","v":246.412,"g":4},{"d":"2018-07-28","v":246.779,"g":4},{"d":"2018-08-12","v":246.787,"g":4},{"d":"2018-08-28","v":246.912,"g":4},{"d":"2018-09-14","v":246.841,"g":4},{"d":"2018-09-30","v":246.814,"g":4},{"d":"2018-10-09","v":246.971,"g":4},{"d":"2018-10-23","v":246.881,"g":4},{"d":"2018-11-30","v":246.895,"g":4},{"d":"2018-12-15","v":246.984,"g":4},{"d":"2019-01-14","v":246.993,"g":4},{"d":"2019-01-21","v":246.872,"g":4},{"d":"2019-02-05","v":247.104,"g":4},{"d":"2019-02-12","v":247.05,"g":4},{"d":"2019-02-21","v":247.011,"g":4},{"d":"2019-03-04","v":246.953,"g":4},{"d":"2019-03-12","v":246.97,"g":4},{"d":"2019-03-26","v":247.002,"g":4},{"d":"2019-04-08","v":247.0,"g":4},{"d":"2019-04-23","v":246.993,"g":4},{"d":"2019-05-01","v":246.96,"g":4},{"d":"2019-05-15","v":246.926,"g":4},{"d":"2019-06-03","v":246.962,"g":4},{"d":"2019-06-17","v":246.926,"g":4},{"d":"2019-07-15","v":246.823,"g":4},{"d":"2019-08-12","v":246.591,"g":4},{"d":"2019-08-28","v":246.671,"g":4},{"d":"2019-09-08","v":246.591,"g":4},{"d":"2019-10-12","v":246.734,"g":4},{"d":"2019-11-03","v":246.979,"g":4},{"d":"2019-11-19","v":246.863,"g":4},{"d":"2019-12-26","v":246.944,"g":4},
{"d":"2020-03-20","v":246.984,"g":5},{"d":"2020-03-23","v":246.618,"g":5},{"d":"2020-03-31","v":246.93,"g":5},{"d":"2020-04-17","v":246.953,"g":5},{"d":"2020-05-09","v":246.895,"g":5},{"d":"2020-05-20","v":246.93,"g":5},{"d":"2020-06-11","v":246.877,"g":5},{"d":"2020-06-27","v":246.787,"g":5},{"d":"2020-07-11","v":246.654,"g":5},{"d":"2020-07-16","v":246.698,"g":5},{"d":"2020-07-30","v":246.462,"g":5},{"d":"2020-08-05","v":246.975,"g":5},{"d":"2020-08-13","v":246.805,"g":5},{"d":"2020-08-24","v":246.899,"g":5},{"d":"2020-09-04","v":246.886,"g":5},{"d":"2020-09-15","v":246.895,"g":5},{"d":"2020-09-26","v":246.846,"g":5},{"d":"2020-10-07","v":246.877,"g":5},{"d":"2020-10-18","v":246.846,"g":5},{"d":"2020-10-30","v":246.917,"g":5},{"d":"2020-11-15","v":246.859,"g":5},{"d":"2020-12-02","v":246.895,"g":5},{"d":"2020-12-24","v":246.917,"g":5},{"d":"2021-01-26","v":247.051,"g":5},{"d":"2021-02-23","v":246.792,"g":5},{"d":"2021-03-17","v":246.814,"g":5},{"d":"2021-03-28","v":246.814,"g":5},{"d":"2021-04-19","v":246.872,"g":5},{"d":"2021-05-22","v":246.502,"g":5},{"d":"2021-06-19","v":246.707,"g":5},{"d":"2021-07-14","v":246.984,"g":5},{"d":"2021-08-10","v":246.774,"g":5},{"d":"2021-09-04","v":246.832,"g":5},{"d":"2021-09-30","v":246.877,"g":5},{"d":"2021-10-24","v":246.852,"g":5},{"d":"2021-11-26","v":246.912,"g":5},{"d":"2021-12-24","v":246.952,"g":5},
{"d":"2022-02-17","v":246.944,"g":6},{"d":"2022-03-28","v":246.948,"g":6},{"d":"2022-04-21","v":246.975,"g":6},{"d":"2022-04-30","v":246.912,"g":6},{"d":"2022-05-17","v":246.859,"g":6},{"d":"2022-06-02","v":246.805,"g":6},{"d":"2022-06-13","v":246.953,"g":6},{"d":"2022-06-24","v":246.859,"g":6},{"d":"2022-07-11","v":246.787,"g":6},{"d":"2022-07-27","v":246.734,"g":6},{"d":"2022-08-13","v":246.68,"g":6},{"d":"2022-08-30","v":246.743,"g":6},{"d":"2022-09-10","v":246.667,"g":6},{"d":"2022-10-02","v":246.787,"g":6},{"d":"2022-10-13","v":246.743,"g":6},{"d":"2022-10-24","v":246.823,"g":6},{"d":"2022-11-26","v":246.805,"g":6},{"d":"2023-01-26","v":247.051,"g":6},{"d":"2023-02-28","v":247.024,"g":6},{"d":"2023-03-26","v":247.091,"g":6},
{"d":"2023-05-09","v":246.908,"g":7},{"d":"2023-05-22","v":246.886,"g":7},{"d":"2023-06-07","v":246.761,"g":7},{"d":"2023-06-30","v":246.935,"g":7},{"d":"2023-07-16","v":246.859,"g":7},{"d":"2023-08-02","v":246.877,"g":7},{"d":"2023-08-16","v":246.957,"g":7},{"d":"2023-09-04","v":246.877,"g":7},{"d":"2023-10-02","v":246.752,"g":7},{"d":"2023-10-13","v":246.841,"g":7},{"d":"2023-11-04","v":246.814,"g":7},{"d":"2023-12-07","v":246.921,"g":7},{"d":"2024-01-20","v":246.917,"g":7},{"d":"2024-02-28","v":246.863,"g":7},{"d":"2024-03-27","v":246.912,"g":7},{"d":"2024-04-10","v":246.984,"g":7},{"d":"2024-04-16","v":246.93,"g":7},{"d":"2024-04-23","v":246.877,"g":7},{"d":"2024-05-05","v":246.975,"g":7},{"d":"2024-05-12","v":246.92,"g":7},{"d":"2024-05-21","v":246.859,"g":7},{"d":"2024-06-01","v":246.93,"g":7},{"d":"2024-06-08","v":246.90,"g":7},{"d":"2024-06-18","v":246.854,"g":7},{"d":"2024-06-29","v":246.886,"g":7},{"d":"2024-07-05","v":246.92,"g":7},{"d":"2024-07-13","v":246.966,"g":7},{"d":"2024-07-26","v":246.841,"g":7},{"d":"2024-08-05","v":246.82,"g":7},{"d":"2024-08-18","v":246.787,"g":7},{"d":"2024-09-09","v":246.716,"g":7},{"d":"2024-09-17","v":246.69,"g":7},{"d":"2024-09-25","v":246.671,"g":7},{"d":"2024-10-06","v":246.734,"g":7},{"d":"2024-10-15","v":246.70,"g":7},{"d":"2024-10-23","v":246.654,"g":7},{"d":"2024-11-01","v":246.68,"g":7},{"d":"2024-11-09","v":246.716,"g":7},{"d":"2024-11-20","v":246.725,"g":7},{"d":"2024-12-12","v":246.846,"g":7}
],
"se":[{"d":"2011-12-05","v":247.25},{"d":"2012-12-15","v":247.25},{"d":"2013-09-01","v":247.25},{"d":"2014-09-13","v":247.25}]
},
"vconcat":[
{
"width":2472,"height":424,
"data":{"name":"pr"},
"resolve":{"scale":{"y":"independent"}},
"layer":[
{"mark":{"type":"bar","size":3.8,"opacity":0.6},
"encoding":{
"x":{"field":"d","type":"temporal","scale":{"type":"utc","domain":[{"year":2011,"month":1,"date":1,"utc":true},{"year":2025,"month":1,"date":1,"utc":true}]},
"axis":{"values":[{"year":2011,"month":1,"date":1,"utc":true},{"year":2011,"month":5,"date":31,"utc":true},{"year":2011,"month":10,"date":28,"utc":true},{"year":2012,"month":3,"date":26,"utc":true},{"year":2012,"month":8,"date":23,"utc":true},{"year":2013,"month":1,"date":20,"utc":true},{"year":2013,"month":6,"date":19,"utc":true},{"year":2013,"month":11,"date":16,"utc":true},{"year":2014,"month":4,"date":15,"utc":true},{"year":2014,"month":9,"date":12,"utc":true},{"year":2015,"month":2,"date":9,"utc":true},{"year":2015,"month":7,"date":9,"utc":true},{"year":2015,"month":12,"date":6,"utc":true},{"year":2016,"month":5,"date":4,"utc":true},{"year":2016,"month":10,"date":1,"utc":true},{"year":2017,"month":2,"date":28,"utc":true},{"year":2017,"month":7,"date":28,"utc":true},{"year":2017,"month":12,"date":25,"utc":true},{"year":2018,"month":5,"date":24,"utc":true},{"year":2018,"month":10,"date":21,"utc":true},{"year":2019,"month":3,"date":20,"utc":true},{"year":2019,"month":8,"date":17,"utc":true},{"year":2020,"month":1,"date":14,"utc":true},{"year":2020,"month":6,"date":12,"utc":true},{"year":2020,"month":11,"date":9,"utc":true},{"year":2021,"month":4,"date":8,"utc":true},{"year":2021,"month":9,"date":5,"utc":true},{"year":2022,"month":2,"date":2,"utc":true},{"year":2022,"month":7,"date":2,"utc":true},{"year":2022,"month":11,"date":29,"utc":true},{"year":2023,"month":4,"date":28,"utc":true},{"year":2023,"month":9,"date":25,"utc":true},{"year":2024,"month":2,"date":22,"utc":true},{"year":2024,"month":7,"date":21,"utc":true},{"year":2024,"month":12,"date":18,"utc":true}],
"format":"%Y-%m-%d","labelAngle":45,"labelAlign":"left","labelBaseline":"top","labelFontSize":24,"labelPadding":16,"labelOverlap":false,"labelBound":false,"labelFlush":false,"tickSize":0,"grid":true,"gridColor":"#000","gridDash":[6,4],"gridWidth":1.5,"zindex":1,"title":null}},
"y":{"field":"p","type":"quantitative","scale":{"domain":[0,10],"reverse":true,"nice":false},
"axis":{"orient":"right","values":[0,1,2,3,4,5,6,7,8,9,10],"title":"Pumping Records (ML)","titleFontSize":26,"titleFontWeight":"normal","titlePadding":12,"labelFontSize":26,"labelPadding":16,"tickSize":7,"tickColor":"#999","grid":false}},
"color":{"datum":"Pumping Records","scale":{"domain":["Total Precipitation (Rain)","Total Precipitation (Snow)","Pumping Records"],"range":["#9B9BF5","#FF0000","#9BBB59"]},
"legend":{"title":null,"orient":"none","legendX":30,"legendY":108,"symbolType":"square","symbolSize":260,"symbolStrokeWidth":0,"symbolOpacity":1,"labelFontSize":29,"labelLimit":0,"padding":6,"rowPadding":12,"symbolOffset":43,"labelOffset":8,"strokeColor":"#b5b5b5","fillColor":"white"}}
}},
{"mark":{"type":"bar","size":3.2},
"encoding":{
"x":{"field":"d","type":"temporal"},
"y":{"field":"r","type":"quantitative","scale":{"domain":[0,80],"nice":false},
"axis":{"orient":"left","values":[0,20,40,60,80],"title":"Total Precipitation (mm)","titleFontSize":31,"titleFontWeight":"bold","titlePadding":30,"labelFontSize":26,"labelPadding":4,"tickSize":7,"tickColor":"#999","grid":true,"gridColor":"#999","gridWidth":2,"zindex":1}},
"color":{"datum":"Total Precipitation (Rain)"}
}},
{"mark":{"type":"bar","size":3.2},
"encoding":{
"x":{"field":"d","type":"temporal"},
"y":{"field":"s","type":"quantitative","scale":{"domain":[0,80],"nice":false},"axis":null},
"color":{"datum":"Total Precipitation (Snow)"}
}}
]
},
{
"width":2472,"height":743,
"layer":[
{"data":{"values":[{}]},"mark":{"type":"rule","strokeWidth":4},
"encoding":{
"x":{"datum":{"year":2011,"month":3,"date":1,"utc":true},"type":"temporal","scale":{"type":"utc","domain":[{"year":2011,"month":1,"date":1,"utc":true},{"year":2025,"month":1,"date":1,"utc":true}]},
"axis":{"values":[{"year":2011,"month":1,"date":1,"utc":true},{"year":2011,"month":5,"date":31,"utc":true},{"year":2011,"month":10,"date":28,"utc":true},{"year":2012,"month":3,"date":26,"utc":true},{"year":2012,"month":8,"date":23,"utc":true},{"year":2013,"month":1,"date":20,"utc":true},{"year":2013,"month":6,"date":19,"utc":true},{"year":2013,"month":11,"date":16,"utc":true},{"year":2014,"month":4,"date":15,"utc":true},{"year":2014,"month":9,"date":12,"utc":true},{"year":2015,"month":2,"date":9,"utc":true},{"year":2015,"month":7,"date":9,"utc":true},{"year":2015,"month":12,"date":6,"utc":true},{"year":2016,"month":5,"date":4,"utc":true},{"year":2016,"month":10,"date":1,"utc":true},{"year":2017,"month":2,"date":28,"utc":true},{"year":2017,"month":7,"date":28,"utc":true},{"year":2017,"month":12,"date":25,"utc":true},{"year":2018,"month":5,"date":24,"utc":true},{"year":2018,"month":10,"date":21,"utc":true},{"year":2019,"month":3,"date":20,"utc":true},{"year":2019,"month":8,"date":17,"utc":true},{"year":2020,"month":1,"date":14,"utc":true},{"year":2020,"month":6,"date":12,"utc":true},{"year":2020,"month":11,"date":9,"utc":true},{"year":2021,"month":4,"date":8,"utc":true},{"year":2021,"month":9,"date":5,"utc":true},{"year":2022,"month":2,"date":2,"utc":true},{"year":2022,"month":7,"date":2,"utc":true},{"year":2022,"month":11,"date":29,"utc":true},{"year":2023,"month":4,"date":28,"utc":true},{"year":2023,"month":9,"date":25,"utc":true},{"year":2024,"month":2,"date":22,"utc":true},{"year":2024,"month":7,"date":21,"utc":true},{"year":2024,"month":12,"date":18,"utc":true}],
"format":"%Y-%m-%d","labelAngle":45,"labelAlign":"left","labelBaseline":"top","labelFontSize":24,"labelPadding":14,"labelOverlap":false,"labelBound":false,"labelFlush":false,"tickSize":8,"tickColor":"#333","grid":true,"gridColor":"#9a9a9a","gridWidth":1.3,"title":"Time","titleFontSize":31,"titleFontWeight":"bold","titlePadding":2}},
"color":{"datum":"Start of Dewatering","scale":{"domain":["OW-29D (Overburden WT)","Sampling Events","Start of Dewatering","Safety Trigger Level","Action Trigger Level","Average Water Elevation"],"range":["#2A20E8","#12A5DE","#C0504D","#9BBB59","#8064A2","#E46C0A"]},
"legend":{"title":null,"orient":"none","legendX":1938,"legendY":472,"symbolType":"stroke","symbolSize":3025,"symbolStrokeWidth":5,"clipHeight":29,"labelFontSize":29,"labelLimit":0,"padding":7,"rowPadding":12,"symbolOffset":47,"labelOffset":5,"strokeColor":"#b5b5b5","fillColor":"white"}}
}},
{"data":{"values":[{}]},"mark":{"type":"rule","strokeWidth":7},"encoding":{"y":{"datum":246.28,"type":"quantitative"},"color":{"datum":"Safety Trigger Level"}}},
{"data":{"values":[{}]},"mark":{"type":"rule","strokeWidth":6},"encoding":{"y":{"datum":245.85,"type":"quantitative"},"color":{"datum":"Action Trigger Level"}}},
{"data":{"values":[{}]},"mark":{"type":"rule","strokeWidth":6},"encoding":{"y":{"datum":246.83,"type":"quantitative"},"color":{"datum":"Average Water Elevation"}}},
{"data":{"name":"gw"},"mark":{"type":"line","strokeWidth":5.5,"point":{"filled":true,"size":40}},
"encoding":{
"x":{"field":"d","type":"temporal"},
"y":{"field":"v","type":"quantitative","scale":{"domain":[245.5,247.5],"nice":false,"zero":false},
"axis":{"values":[245.5,246,246.5,247,247.5],"format":".2f","title":"GROUNDWATER ELEVATION (mASL)","titleFontSize":31,"titleFontWeight":"bold","titlePadding":12,"labelFontSize":32,"labelPadding":20,"tickSize":8,"tickColor":"#333","grid":true,"gridColor":"#9a9a9a","gridWidth":1.3}},
"detail":{"field":"g"},
"color":{"datum":"OW-29D (Overburden WT)"}
}},
{"data":{"name":"se"},"mark":{"type":"point","filled":true,"size":700,"opacity":1},
"encoding":{"x":{"field":"d","type":"temporal"},"y":{"field":"v","type":"quantitative"},"color":{"datum":"Sampling Events"}}},
{"data":{"values":[{"d":"2011-04-26","v":245.694,"t":"Start of Quarry Dewatering\n(March 2011)"}]},
"mark":{"type":"text","align":"left","baseline":"alphabetic","fontSize":29,"fontWeight":"bold","lineBreak":"\n","lineHeight":31,"color":"#111"},
"encoding":{"x":{"field":"d","type":"temporal"},"y":{"field":"v","type":"quantitative"},"text":{"field":"t"}}}
]
}
]
}
